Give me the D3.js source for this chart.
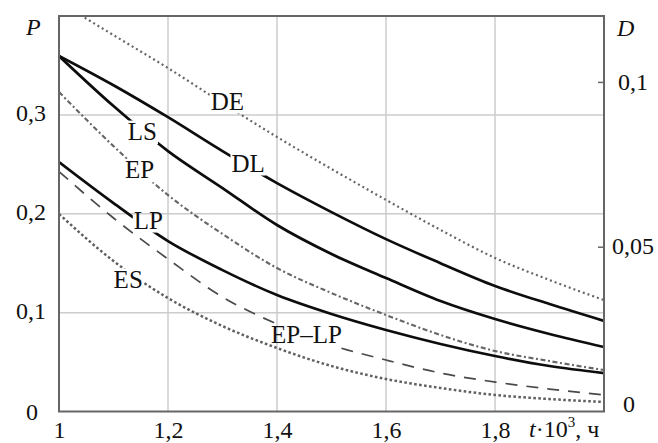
<!DOCTYPE html>
<html><head><meta charset="utf-8">
<script src="https://cdn.jsdelivr.net/npm/d3@7"></script>
<style>
body{margin:0;background:#fff;}
svg{display:block;}
svg text{font-family:'Liberation Serif','Tinos','Times New Roman','DejaVu Serif',serif !important;fill:#111;}
</style></head><body>
<svg id="chart" width="658" height="443"></svg>
<script>
// ---- data ----
const tValues = [1.0, 1.1, 1.2, 1.3, 1.4, 1.5, 1.6, 1.7, 1.8, 1.9, 2.0];
// right axis (D)
const DE = [0.1242, 0.1142, 0.1042, 0.0936, 0.0833, 0.0736, 0.0642, 0.0551, 0.0466, 0.0399, 0.0338];
const DL = [0.1079, 0.0990, 0.0893, 0.0790, 0.0693, 0.0605, 0.0523, 0.0450, 0.0381, 0.0326, 0.0275];
// left axis (P)
const LS = [0.3595, 0.3089, 0.2634, 0.2260, 0.1886, 0.1593, 0.1350, 0.1117, 0.0935, 0.0784, 0.0652];
const EP = [0.3231, 0.2684, 0.2189, 0.1795, 0.1451, 0.1198, 0.0976, 0.0774, 0.0612, 0.0510, 0.0419];
const LP = [0.2523, 0.2108, 0.1724, 0.1430, 0.1178, 0.0986, 0.0824, 0.0683, 0.0561, 0.0460, 0.0389];
const EPLP = [0.2427, 0.1957, 0.1542, 0.1158, 0.0885, 0.0672, 0.0521, 0.0389, 0.0298, 0.0227, 0.0167];
const ES = [0.1997, 0.1522, 0.1147, 0.0864, 0.0642, 0.0460, 0.0329, 0.0238, 0.0167, 0.0126, 0.0096];

const xTicks = [1, 1.2, 1.4, 1.6, 1.8];
const xTickLabels = ["1", "1,2", "1,4", "1,6", "1,8"];
const pTicks = [0, 0.1, 0.2, 0.3];
const pTickLabels = ["0", "0,1", "0,2", "0,3"];
const dTicks = [0, 0.05, 0.1];
const dTickLabels = ["0", "0,05", "0,1"];

const seriesNames = ["DE", "DL", "LS", "EP", "LP", "EP–LP", "ES"];
const seriesAxis = ["D", "D", "P", "P", "P", "P", "P"];
const seriesValues = [DE, DL, LS, EP, LP, EPLP, ES];
// label anchor (t, P) of the curve captions, same order as seriesNames
const labelT = [1.309, 1.347, 1.153, 1.148, 1.164, 1.454, 1.127];
const labelP = [0.3054, 0.2427, 0.2745, 0.2358, 0.1850, 0.0693, 0.1249];

// ---- layout ----
const W = 658, H = 443;
const L = 59, R = 604, T = 16, B = 411.5;
const FONT = "'Liberation Serif','Tinos','Times New Roman','DejaVu Serif',serif";
const svg = d3.select("#chart");
const x = d3.scaleLinear().domain([1, 2]).range([L, R]);
const yP = d3.scaleLinear().domain([0, 0.4]).range([B, T]);
const yD = d3.scaleLinear().domain([0, 0.12]).range([B, T]);

const styles = {
  "DE":    {stroke: "#666",    width: 2.2, dash: "2,3"},
  "DL":    {stroke: "#0d0d0d", width: 2.7, dash: null},
  "LS":    {stroke: "#0d0d0d", width: 2.7, dash: null},
  "EP":    {stroke: "#666",    width: 2.1, dash: "5,2.6,2,2.6"},
  "LP":    {stroke: "#0d0d0d", width: 2.7, dash: null},
  "EP–LP": {stroke: "#4a4a4a", width: 1.7, dash: "12,9"},
  "ES":    {stroke: "#606060", width: 2.5, dash: "2.6,2.4"}
};

const defs = svg.append("defs");
defs.append("clipPath").attr("id", "plotClip").append("rect")
  .attr("x", L).attr("y", T).attr("width", R - L).attr("height", B - T);

// grid
const grid = svg.append("g");
grid.selectAll("line.v").data(xTicks.filter(d => d > 1)).join("line")
  .attr("x1", d => x(d)).attr("x2", d => x(d)).attr("y1", T).attr("y2", B)
  .attr("stroke", "#cccccc").attr("stroke-width", 1.5);
grid.selectAll("line.h").data(pTicks.filter(d => d > 0)).join("line")
  .attr("x1", L).attr("x2", R).attr("y1", d => yP(d)).attr("y2", d => yP(d))
  .attr("stroke", "#cccccc").attr("stroke-width", 1.5);

// labels (drawn first to measure)
const FS_LBL = 25;
const gLabels = svg.append("g").attr("font-family", FONT);
const curvesG = svg.append("g").attr("clip-path", "url(#plotClip)");

seriesNames.forEach((name, i) => {
  const lx = x(labelT[i]), ly = yP(labelP[i]);
  const lbl = gLabels.append("text")
    .attr("x", lx).attr("y", ly).attr("text-anchor", "middle")
    .attr("font-size", FS_LBL).attr("font-family", FONT).text(name);
  const bb = lbl.node().getBBox();
  const m = defs.append("mask").attr("id", "mask" + i)
    .attr("maskUnits", "userSpaceOnUse")
    .attr("x", 0).attr("y", 0).attr("width", W).attr("height", H);
  m.append("rect").attr("x", 0).attr("y", 0).attr("width", W).attr("height", H).attr("fill", "#fff");
  m.append("rect").attr("x", bb.x - 1).attr("y", ly - FS_LBL * 0.66 - 3)
    .attr("width", bb.width + 2).attr("height", FS_LBL * 0.66 + 7).attr("fill", "#000");

  const ys = seriesAxis[i] === "D" ? yD : yP;
  const line = d3.line().x((d, j) => x(tValues[j])).y(d => ys(d)).curve(d3.curveMonotoneX);
  const st = styles[name];
  curvesG.append("path")
    .datum(seriesValues[i])
    .attr("d", line)
    .attr("fill", "none")
    .attr("stroke", st.stroke)
    .attr("stroke-width", st.width)
    .attr("stroke-dasharray", st.dash)
    .attr("mask", "url(#mask" + i + ")");
});
gLabels.raise();

// frame
svg.append("rect").attr("x", L).attr("y", T).attr("width", R - L).attr("height", B - T)
  .attr("fill", "none").attr("stroke", "#666").attr("stroke-width", 2);

// axes
const FS_TICK = 24;
const xAxis = svg.append("g").attr("transform", `translate(0,${B})`)
  .call(d3.axisBottom(x).tickValues(xTicks).tickSize(0).tickPadding(10)
    .tickFormat((d, i) => xTickLabels[i]));
xAxis.attr("font-family", FONT);
xAxis.select(".domain").remove();
xAxis.selectAll("text").attr("font-size", FS_TICK).attr("fill", "#111")
  .attr("dy", "0.71em").attr("y", 9);

const pAxis = svg.append("g").attr("transform", `translate(${L},0)`)
  .call(d3.axisLeft(yP).tickValues(pTicks).tickSize(0).tickPadding(13)
    .tickFormat((d, i) => pTickLabels[i]));
pAxis.attr("font-family", FONT);
pAxis.select(".domain").remove();
pAxis.selectAll("text").attr("font-size", FS_TICK).attr("fill", "#111")
  .attr("dy", "0.25em");
pAxis.selectAll(".tick").filter(d => d === 0).select("text").attr("x", -21).attr("dy", "0.32em");

const dAxis = svg.append("g").attr("transform", `translate(${R},0)`)
  .call(d3.axisRight(yD).tickValues(dTicks).tickSizeInner(-6).tickSizeOuter(0).tickPadding(14)
    .tickFormat((d, i) => dTickLabels[i]));
dAxis.attr("font-family", FONT);
dAxis.select(".domain").remove();
dAxis.selectAll("line").attr("stroke", "#666").attr("stroke-width", 1.5);
dAxis.selectAll(".tick").filter(d => d === 0).select("line").remove();
dAxis.selectAll("text").attr("font-size", FS_TICK).attr("fill", "#111")
  .attr("text-anchor", "middle").attr("x", 29).attr("dy", "0.3em");
dAxis.selectAll(".tick").filter(d => d === 0).select("text").attr("x", 25).attr("dy", "0.0em");

// axis titles
svg.append("text").attr("x", 26).attr("y", 35).attr("font-family", FONT).attr("font-size", FS_TICK).attr("font-style", "italic").text("P");
svg.append("text").attr("x", 617).attr("y", 36).attr("font-family", FONT).attr("font-size", FS_TICK).attr("font-style", "italic").text("D");
const tt = svg.append("text").attr("x", 529).attr("y", 437).attr("font-family", FONT).attr("font-size", FS_TICK);
tt.append("tspan").attr("font-style", "italic").text("t");
tt.append("tspan").text("·10");
tt.append("tspan").attr("font-size", 15).attr("dy", -10).text("3");
tt.append("tspan").attr("dy", 10).text(", ч");
</script>
</body></html>
